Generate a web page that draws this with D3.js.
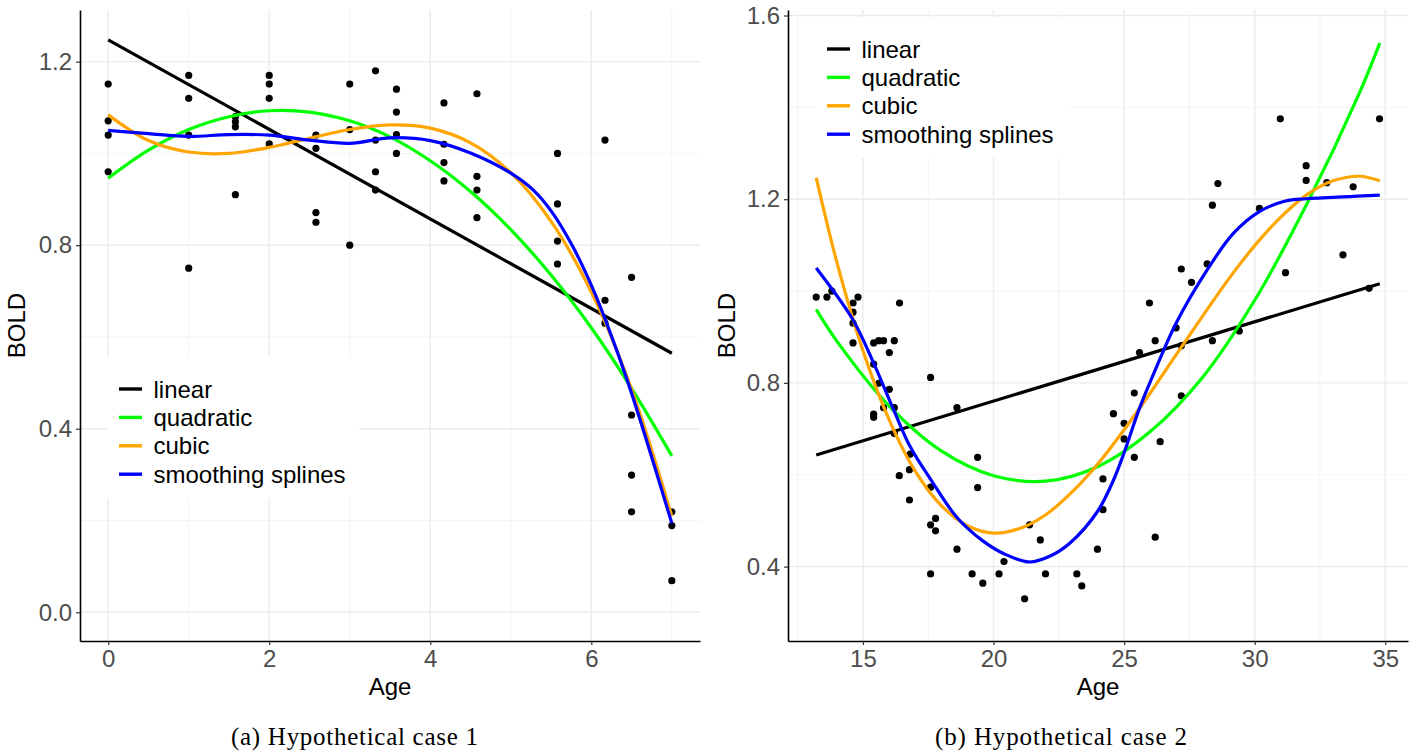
<!DOCTYPE html>
<html>
<head>
<meta charset="utf-8">
<script src="https://cdnjs.cloudflare.com/ajax/libs/d3/7.8.5/d3.min.js"></script>
<style>
    body { margin: 0; background: #ffffff; }
    svg text { font-family: "Liberation Sans", Arial, Helvetica, sans-serif; }
    .grid-major { stroke: #ebebeb; stroke-width: 1.4; }
    .grid-minor { stroke: #f3f3f3; stroke-width: 0.9; }
    .axis path.domain { stroke: #000; stroke-width: 1.6; }
    .axis .tick line { stroke: #333; stroke-width: 1.2; }
    .axis .tick text { fill: #4d4d4d; font-size: 24px; }
    .axis-title { font-size: 24px; fill: #000; }
    .legend-text { font-size: 24px; fill: #000; }
    .caption { font-family: "Liberation Serif", "Times New Roman", serif !important; font-size: 25px; fill: #000; }
</style>
</head>
<body>
<div id="chart"></div>
<script>

// ---- case 1 : observed points ----
let case1Age = [0, 0, 0, 0,
    1, 1, 1, 1,
    1.58, 1.58, 1.58, 1.58,
    2, 2, 2, 2,
    2.58, 2.58, 2.58, 2.58,
    3, 3, 3,
    3.32, 3.32, 3.32, 3.32,
    3.58, 3.58, 3.58, 3.58,
    4.17, 4.17, 4.17, 4.17,
    4.58, 4.58, 4.58, 4.58,
    5.58, 5.58, 5.58, 5.58,
    6.17, 6.17, 6.17,
    6.5, 6.5, 6.5, 6.5,
    7, 7, 7];
let case1Bold = [1.151, 1.071, 1.040, 0.960,
    1.170, 1.120, 1.040, 0.750,
    1.080, 1.069, 1.058, 0.910,
    1.170, 1.151, 1.120, 1.021,
    1.040, 1.011, 0.871, 0.850,
    1.151, 1.052, 0.800,
    1.180, 1.029, 0.960, 0.920,
    1.140, 1.090, 1.041, 1.000,
    1.110, 1.020, 0.980, 0.940,
    1.130, 0.950, 0.920, 0.860,
    1.000, 0.890, 0.809, 0.759,
    1.029, 0.680, 0.630,
    0.730, 0.430, 0.299, 0.219,
    0.219, 0.189, 0.069];

// ---- case 1 : fitted curves ----
let case1LinearAge = [0, 7];
let case1Linear = [1.2475, 0.5645];
let case1PolyAge = [0, 0.5, 1, 1.5, 2, 2.5, 3, 3.5, 4, 4.5, 5, 5.5, 6, 6.5, 7];
let case1Quadratic = [0.946, 1.007, 1.052, 1.080, 1.093, 1.090, 1.071, 1.036, 0.984, 0.917, 0.834, 0.735, 0.620, 0.488, 0.341];
let case1Cubic = [1.084, 1.028, 1.003, 1.000, 1.013, 1.033, 1.052, 1.062, 1.055, 1.023, 0.958, 0.852, 0.698, 0.486, 0.209];
let case1SplineAge = [0, 0.5, 1, 1.5, 2, 2.5, 3, 3.5, 4, 4.5, 5, 5.28, 5.52, 5.77, 6.02, 6.18, 6.48, 7];
let case1Spline = [1.050, 1.043, 1.037, 1.041, 1.040, 1.029, 1.022, 1.034, 1.028, 1.001, 0.957, 0.920, 0.870, 0.797, 0.705, 0.635, 0.488, 0.194];

// ---- case 2 : observed points ----
let case2Age = [13.21, 13.62, 13.81, 14.62, 14.81, 16.40, 14.62, 14.62, 14.62, 15.41,
    15.60, 15.79, 16.20, 16.01, 15.41, 15.60, 16.01, 15.41, 15.41, 15.79,
    16.20, 16.20, 16.81, 16.78, 16.39, 16.78, 17.59, 18.60, 17.59, 17.78,
    17.59, 17.78, 18.60, 17.59, 19.18, 19.59, 19.39, 19.39, 20.21, 20.40,
    21.19, 21.38, 21.79, 21.99, 23.19, 23.38, 23.98, 24.19, 24.19, 24.59,
    25.00, 25.00, 25.39, 25.39, 25.59, 26.19, 26.99, 27.19, 26.38, 26.19,
    27.19, 28.38, 29.41, 25.97, 27.19, 27.58, 28.18, 28.38, 28.59, 30.18,
    30.98, 31.18, 31.97, 31.97, 32.76, 33.77, 33.38, 34.38, 34.78];
let case2Bold = [0.987, 0.987, 1.000, 0.974, 0.987, 0.974, 0.954, 0.930, 0.887, 0.887,
    0.892, 0.892, 0.892, 0.866, 0.841, 0.799, 0.786, 0.732, 0.725, 0.746,
    0.746, 0.690, 0.645, 0.611, 0.598, 0.545, 0.812, 0.746, 0.573, 0.505,
    0.491, 0.478, 0.438, 0.384, 0.384, 0.364, 0.638, 0.572, 0.384, 0.411,
    0.330, 0.491, 0.458, 0.384, 0.384, 0.358, 0.438, 0.524, 0.591, 0.733,
    0.712, 0.678, 0.638, 0.778, 0.866, 0.892, 0.920, 0.881, 0.672, 0.464,
    0.772, 0.892, 0.913, 0.974, 1.048, 1.019, 1.059, 1.187, 1.234, 1.180,
    1.375, 1.040, 1.273, 1.241, 1.236, 1.227, 1.079, 1.006, 1.375];

// ---- case 2 : fitted curves ----
let case2LinearAge = [13.21, 34.79];
let case2Linear = [0.643, 1.016];
let case2QuadAge = [13.21, 14, 16, 18, 20, 22, 24, 26, 28, 30, 32, 34, 34.79];
let case2Quadratic = [0.960, 0.891, 0.750, 0.652, 0.598, 0.586, 0.618, 0.694, 0.812, 0.980, 1.190, 1.430, 1.540];
let case2CubicAge = [13.21, 14, 15, 16, 17, 18, 19, 20, 21, 22, 23, 24, 25, 26, 27, 28, 29, 30, 31, 32, 33, 34, 34.79];
let case2Cubic = [1.247, 1.063, 0.870, 0.720, 0.608, 0.533, 0.489, 0.473, 0.483, 0.513, 0.562, 0.624, 0.698, 0.778, 0.862, 0.945, 1.026, 1.099, 1.161, 1.210, 1.240, 1.250, 1.240];
let case2SplineAge = [13.21, 14.62, 15.41, 16.2, 16.8, 17.59, 18.6, 19.59, 20.4, 21.38, 22.17, 22.94, 23.98, 24.59, 25.0, 25.59, 26.19, 26.99, 28.18, 29.19, 30.18, 31.18, 31.97, 33.77, 34.79];
let case2Spline = [1.050, 0.937, 0.843, 0.738, 0.662, 0.590, 0.507, 0.456, 0.428, 0.410, 0.423, 0.452, 0.520, 0.588, 0.648, 0.745, 0.828, 0.930, 1.046, 1.126, 1.173, 1.196, 1.201, 1.206, 1.209];

// legend
let fitNames = ['linear', 'quadratic', 'cubic', 'smoothing splines'];
let fitColors = ['#000000', '#00ff00', '#ffa500', '#0000ff'];

// tick values
let case1XTicks = [0, 2, 4, 6];
let case1XMinor = [1, 3, 5, 7];
let case1YTicks = [0.0, 0.4, 0.8, 1.2];
let case1YMinor = [0.2, 0.6, 1.0];
let case2XTicks = [15, 20, 25, 30, 35];
let case2XMinor = [12.5, 17.5, 22.5, 27.5, 32.5];
let case2YTicks = [0.4, 0.8, 1.2, 1.6];
let case2YMinor = [0.6, 1.0, 1.4];


const svg = d3.select('#chart').append('svg')
    .attr('width', 1416)
    .attr('height', 753);


class FitVis {

    constructor(svg, cfg) {
        this.svg = svg;
        this.cfg = cfg;
        this.initVis();
    }

    initVis() {
        let vis = this;
        let c = vis.cfg;

        vis.xScale = d3.scaleLinear().domain(c.xDomain).range([c.left, c.right]);
        vis.yScale = d3.scaleLinear().domain(c.yDomain).range([c.bottom, c.top]);

        vis.g = vis.svg.append('g');

        // grid
        let grid = vis.g.append('g');
        grid.selectAll('.gx-minor').data(c.xMinor).join('line')
            .attr('class', 'grid-minor')
            .attr('x1', d => vis.xScale(d)).attr('x2', d => vis.xScale(d))
            .attr('y1', c.top).attr('y2', c.bottom);
        grid.selectAll('.gy-minor').data(c.yMinor).join('line')
            .attr('class', 'grid-minor')
            .attr('x1', c.left).attr('x2', c.right)
            .attr('y1', d => vis.yScale(d)).attr('y2', d => vis.yScale(d));
        grid.selectAll('.gx-major').data(c.xTicks).join('line')
            .attr('class', 'grid-major')
            .attr('x1', d => vis.xScale(d)).attr('x2', d => vis.xScale(d))
            .attr('y1', c.top).attr('y2', c.bottom);
        grid.selectAll('.gy-major').data(c.yTicks).join('line')
            .attr('class', 'grid-major')
            .attr('x1', c.left).attr('x2', c.right)
            .attr('y1', d => vis.yScale(d)).attr('y2', d => vis.yScale(d));

        vis.updateVis();
    }

    updateVis() {
        let vis = this;
        let c = vis.cfg;

        // points
        vis.g.append('g').selectAll('circle')
            .data(d3.range(c.age.length))
            .join('circle')
            .attr('cx', i => vis.xScale(c.age[i]))
            .attr('cy', i => vis.yScale(c.bold[i]))
            .attr('r', 3.6)
            .attr('fill', '#000');

        // fitted curves
        let line = d3.line()
            .x(d => vis.xScale(d[0]))
            .y(d => vis.yScale(d[1]))
            .curve(d3.curveCatmullRom.alpha(0.5));

        c.fits.forEach((f, k) => {
            vis.g.append('path')
                .datum(d3.zip(f.x, f.y))
                .attr('d', line)
                .attr('fill', 'none')
                .attr('stroke', fitColors[k])
                .attr('stroke-width', 3.2);
        });

        // axes
        vis.g.append('g')
            .attr('class', 'axis')
            .attr('transform', `translate(0,${c.bottom})`)
            .call(d3.axisBottom(vis.xScale).tickValues(c.xTicks).tickSize(4).tickSizeOuter(0).tickPadding(5).tickFormat(d3.format('d')));

        vis.g.append('g')
            .attr('class', 'axis')
            .attr('transform', `translate(${c.left},0)`)
            .call(d3.axisLeft(vis.yScale).tickValues(c.yTicks).tickSize(4).tickSizeOuter(0).tickPadding(4).tickFormat(d3.format('.1f')));

        vis.g.append('text')
            .attr('class', 'axis-title')
            .attr('x', (c.left + c.right) / 2)
            .attr('y', 695)
            .attr('text-anchor', 'middle')
            .text('Age');

        vis.g.append('text')
            .attr('class', 'axis-title')
            .attr('transform', `translate(${c.yTitleX}, ${(c.top + c.bottom) / 2}) rotate(-90)`)
            .attr('text-anchor', 'middle')
            .text('BOLD');

        // legend
        let lg = vis.g.append('g').attr('transform', `translate(${c.legendX}, ${c.legendY})`);
        lg.append('rect')
            .attr('width', 252).attr('height', 141)
            .attr('fill', '#fff');
        fitNames.forEach((name, k) => {
            let ky = 32 + k * 28.4;
            lg.append('line')
                .attr('x1', 12).attr('x2', 35)
                .attr('y1', ky).attr('y2', ky)
                .attr('stroke', fitColors[k])
                .attr('stroke-width', 3.4);
            lg.append('text')
                .attr('class', 'legend-text')
                .attr('x', 46.5)
                .attr('y', ky + 8.5)
                .text(name);
        });

        // caption
        vis.svg.append('text')
            .attr('class', 'caption')
            .attr('x', c.captionX)
            .attr('y', 745)
            .attr('text-anchor', 'middle')
            .attr('textLength', c.captionLen)
            .attr('lengthAdjust', 'spacing')
            .text(c.caption);
    }
}


new FitVis(svg, {
    left: 80, right: 700, top: 10, bottom: 641,
    xDomain: [-0.35, 7.35], yDomain: [-0.0625, 1.3125],
    xTicks: case1XTicks, xMinor: case1XMinor, yTicks: case1YTicks, yMinor: case1YMinor,
    age: case1Age, bold: case1Bold,
    fits: [
        {x: case1LinearAge, y: case1Linear},
        {x: case1PolyAge, y: case1Quadratic},
        {x: case1PolyAge, y: case1Cubic},
        {x: case1SplineAge, y: case1Spline}
    ],
    yTitleX: 25, legendX: 107, legendY: 357,
    caption: '(a) Hypothetical case 1', captionX: 354.5, captionLen: 247
});

new FitVis(svg, {
    left: 788, right: 1408, top: 10, bottom: 641,
    xDomain: [12.13, 35.87], yDomain: [0.238, 1.612],
    xTicks: case2XTicks, xMinor: case2XMinor, yTicks: case2YTicks, yMinor: case2YMinor,
    age: case2Age, bold: case2Bold,
    fits: [
        {x: case2LinearAge, y: case2Linear},
        {x: case2QuadAge, y: case2Quadratic},
        {x: case2CubicAge, y: case2Cubic},
        {x: case2SplineAge, y: case2Spline}
    ],
    yTitleX: 735, legendX: 815, legendY: 17,
    caption: '(b) Hypothetical case 2', captionX: 1061, captionLen: 252
});

</script>
</body>
</html>
